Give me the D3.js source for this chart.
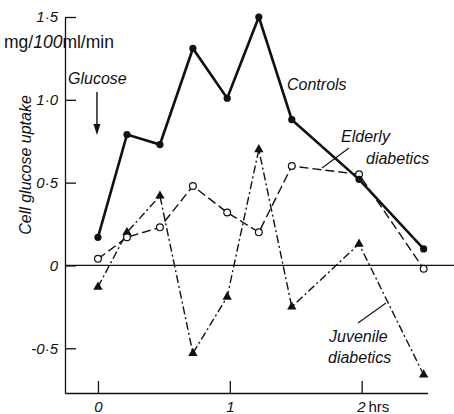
<!DOCTYPE html>
<html lang="en">
<head>
<meta charset="utf-8">
<title>Cell glucose uptake</title>
<script src="https://cdn.jsdelivr.net/npm/d3@7"></script>
<style>
  body { margin: 0; background: #fff; }
  svg text { font-family: "Liberation Sans", Arial, sans-serif; fill: #111; }
</style>
</head>
<body>
<script>
// hours after glucose, one per sample
var hours = [0, 0.22, 0.47, 0.72, 0.98, 1.22, 1.47, 1.98, 2.47];
// cell glucose uptake, mg/100ml/min
var controls = [0.17, 0.79, 0.73, 1.31, 1.01, 1.50, 0.88, 0.52, 0.10];
var elderly  = [0.04, 0.17, 0.23, 0.48, 0.32, 0.20, 0.60, 0.55, -0.02];
var juvenile = [-0.13, 0.20, 0.42, -0.53, -0.19, 0.70, -0.25, 0.13, -0.66];
var yTicks = [-0.5, 0, 0.5, 1, 1.5];
var xTicks = [0, 1, 2];

var w = 454, h = 414;
var ink = "#111";

var x = d3.scaleLinear().domain([-0.25, 2.5]).range([65, 427.6]);
var y = d3.scaleLinear().domain([-0.77, 1.5]).range([393, 17]);

var svg = d3.select("body").append("svg")
  .attr("width", w).attr("height", h);

// tick labels use a raised point like the print: 0·5
function fmt(d) {
  if (d === 0) return "0";
  return d3.format(".1f")(d).replace(".", "\u00b7").replace("\u2212", "-");
}

// y axis, ticks pointing inward
var gy = svg.append("g")
  .attr("transform", "translate(" + x.range()[0] + ",0)")
  .call(d3.axisLeft(y).tickValues(yTicks).tickSizeInner(-11).tickSizeOuter(0)
        .tickPadding(7).tickFormat(fmt));

// x axis
var gx = svg.append("g")
  .attr("transform", "translate(0," + y.range()[0] + ")")
  .call(d3.axisBottom(x).tickValues(xTicks).tickSizeInner(-12).tickSizeOuter(0)
        .tickPadding(8).tickFormat(function(d) { return String(d); }));

[gy, gx].forEach(function(g) {
  g.attr("font-family", null).attr("font-size", null);
  g.selectAll("path, line").attr("stroke", ink).attr("stroke-width", 1.3);
  g.selectAll("text").attr("fill", ink).style("font-size", "15px").style("font-style", "italic");
});

// "2 hrs": the figure italic, the unit upright
gx.selectAll(".tick text").filter(function(d) { return d === 2; })
  .text(null).attr("text-anchor", "start").attr("x", -5)
  .call(function(t) {
    t.append("tspan").text("2");
    t.append("tspan").attr("dx", 3).style("font-style", "normal").text("hrs");
  });

// zero line across the plot
svg.append("line")
  .attr("x1", x.range()[0]).attr("x2", w)
  .attr("y1", y(0)).attr("y2", y(0))
  .attr("stroke", ink).attr("stroke-width", 1.3);

var line = d3.line()
  .x(function(d) { return x(d[0]); })
  .y(function(d) { return y(d[1]); });

function pairs(vals) { return hours.map(function(t, i) { return [t, vals[i]]; }); }

svg.append("path").datum(pairs(juvenile))
  .attr("d", line).attr("fill", "none").attr("stroke", ink)
  .attr("stroke-width", 1.4).attr("stroke-dasharray", "8,3,2,3");

svg.append("path").datum(pairs(elderly))
  .attr("d", line).attr("fill", "none").attr("stroke", ink)
  .attr("stroke-width", 1.4).attr("stroke-dasharray", "9,4");

svg.append("path").datum(pairs(controls))
  .attr("d", line).attr("fill", "none").attr("stroke", ink)
  .attr("stroke-width", 2.6);

// markers
svg.append("g").selectAll("path")
  .data(pairs(juvenile)).enter().append("path")
  .attr("d", d3.symbol(d3.symbolTriangle, 38))
  .attr("transform", function(d) { return "translate(" + x(d[0]) + "," + y(d[1]) + ")"; })
  .attr("fill", ink);

svg.append("g").selectAll("circle")
  .data(pairs(elderly)).enter().append("circle")
  .attr("cx", function(d) { return x(d[0]); })
  .attr("cy", function(d) { return y(d[1]); })
  .attr("r", 3.4).attr("fill", "#fff").attr("stroke", ink).attr("stroke-width", 1.2);

svg.append("g").selectAll("circle")
  .data(pairs(controls)).enter().append("circle")
  .attr("cx", function(d) { return x(d[0]); })
  .attr("cy", function(d) { return y(d[1]); })
  .attr("r", 3.6).attr("fill", ink);

// units
var units = svg.append("text").attr("x", 4).attr("y", 48)
  .attr("fill", ink).style("font-size", "17.5px");
units.append("tspan").text("mg/");
units.append("tspan").style("font-style", "italic").text("100");
units.append("tspan").text("ml/min");

// y title
svg.append("text")
  .attr("transform", "translate(31,165) rotate(-90)")
  .attr("text-anchor", "middle").attr("fill", ink)
  .style("font-size", "16px").style("font-style", "italic")
  .text("Cell glucose uptake");

// glucose arrow
svg.append("text").attr("x", 68).attr("y", 84).attr("fill", ink)
  .style("font-size", "16px").style("font-style", "italic").text("Glucose");
svg.append("line").attr("x1", x(0) - 1).attr("x2", x(0) - 1).attr("y1", 92).attr("y2", 128)
  .attr("stroke", ink).attr("stroke-width", 1.4);
svg.append("path")
  .attr("d", "M" + (x(0) - 4.5) + ",124 L" + (x(0) + 2.5) + ",124 L" + (x(0) - 1) + ",135 Z")
  .attr("fill", ink);

// series labels
function label(tx, ty, s) {
  svg.append("text").attr("x", tx).attr("y", ty).attr("fill", ink)
    .style("font-size", "16px").style("font-style", "italic").text(s);
}
label(287, 90, "Controls");
label(341, 142, "Elderly");
label(366, 164, "diabetics");
label(329, 342, "Juvenile");
label(328, 363, "diabetics");

// leader lines
svg.append("line").attr("x1", 349).attr("y1", 148).attr("x2", 322).attr("y2", 168)
  .attr("stroke", ink).attr("stroke-width", 1.1);
svg.append("line").attr("x1", 358).attr("y1", 323).attr("x2", 386).attr("y2", 303)
  .attr("stroke", ink).attr("stroke-width", 1.1);
</script>
</body>
</html>
